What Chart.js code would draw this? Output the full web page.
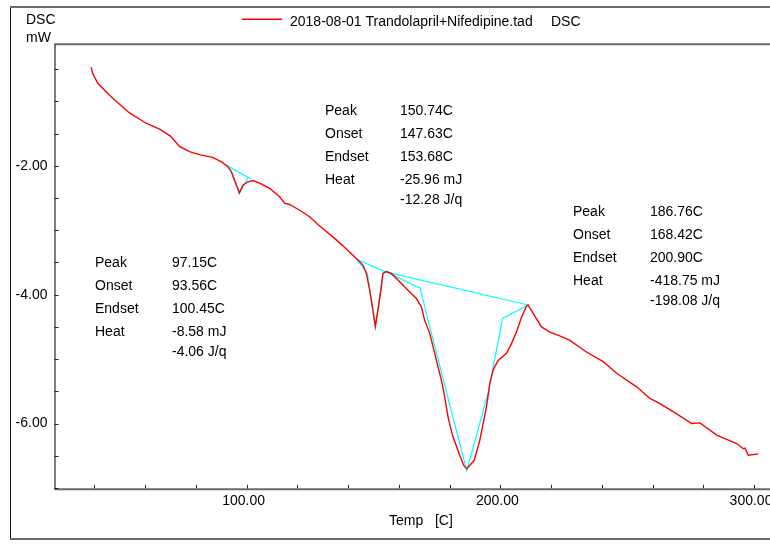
<!DOCTYPE html>
<html>
<head>
<meta charset="utf-8">
<script src="https://cdn.jsdelivr.net/npm/chart.js@4.4.0/dist/chart.umd.min.js"></script>
<style>
  html, body { margin: 0; padding: 0; background: #fff; }
  #wrap { width: 770px; height: 544px; position: relative; }
</style>
</head>
<body>
<div id="wrap"><canvas id="dsc" width="770" height="544"></canvas></div>
<script>
// DSC trace: temperature (C) and heat flow (mW)
const tempC = [
  38.74, 39.37, 41.34, 47.14, 53.85, 60.43, 65.68, 70.02, 73.57, 77.51,
  81.85, 86.59, 90.14, 92.50, 93.96, 95.27, 96.57, 97.15, 98.54, 100.51,
  102.49, 105.13, 109.07, 113.02, 114.99, 116.96, 120.91, 124.85, 128.13, 135.38,
  139.33, 143.27, 145.88, 147.22, 148.52, 149.59, 150.74, 151.80, 153.14, 153.77,
  155.11, 157.08, 160.36, 164.30, 166.94, 168.92, 170.22, 172.19, 174.83, 176.80,
  178.11, 179.41, 181.38, 184.02, 185.60, 186.76, 188.64, 189.73, 191.91, 194.56,
  195.86, 197.16, 199.13, 202.45, 204.42, 206.39, 208.36, 210.34, 210.97, 212.94,
  216.25, 219.53, 223.47, 227.42, 234.00, 240.55, 245.84, 253.73, 258.97, 262.92,
  269.51, 275.42, 278.70, 285.29, 293.18, 295.78, 296.45, 297.75, 301.70
];
const dscMw = [
  -0.47, -0.57, -0.72, -0.95, -1.18, -1.34, -1.43, -1.54, -1.70, -1.78,
  -1.83, -1.87, -1.94, -2.01, -2.09, -2.22, -2.36, -2.42, -2.30, -2.25,
  -2.23, -2.27, -2.35, -2.48, -2.58, -2.60, -2.69, -2.79, -2.91, -3.15,
  -3.29, -3.44, -3.54, -3.67, -3.93, -4.19, -4.49, -4.24, -3.88, -3.67,
  -3.64, -3.67, -3.80, -3.96, -4.06, -4.19, -4.40, -4.60, -5.02, -5.33,
  -5.59, -5.90, -6.21, -6.49, -6.65, -6.70, -6.62, -6.57, -6.26, -5.74,
  -5.38, -5.17, -5.02, -4.91, -4.76, -4.58, -4.35, -4.18, -4.16, -4.29,
  -4.50, -4.58, -4.64, -4.71, -4.89, -5.04, -5.22, -5.43, -5.61, -5.69,
  -5.85, -6.00, -5.99, -6.18, -6.31, -6.39, -6.38, -6.49, -6.47
];

// Peak analysis results
const peakT   = [97.15, 150.74, 186.76];
const onsetT  = [93.56, 147.63, 168.42];
const endsetT = [100.45, 153.68, 200.90];
const heatMJ  = [-8.58, -25.96, -418.75];
const heatJg  = [-4.06, -12.28, -198.08];

// Baselines and tangent constructions
const base1T = [91.99, 101.85];
const base1Y = [-1.99, -2.21];
const tan1T  = [onsetT[0], peakT[0], endsetT[0]];
const tan1Y  = [-2.05, -2.43, -2.19];
const base2T = [143.27, 155.11];
const base2Y = [-3.45, -3.65];
const tan2T  = [143.27, onsetT[1], peakT[1], endsetT[1], 155.11];
const tan2Y  = [-3.45, -3.67, -4.51, -3.67, -3.65];
const base3T = [155.11, 210.97];
const base3Y = [-3.65, -4.16];
const tan3T  = [155.11, onsetT[2], 172.19, peakT[2], 195.19, endsetT[2], 210.97];
const tan3Y  = [-3.65, -3.90, -4.50, -6.73, -5.53, -4.37, -4.16];

// Axis ranges and ticks
const xRange = [24.3, 306.3];
const yRange = [-7.02, -0.115];
const xStep = 20, xLabelEvery = 100;
const yStep = 0.5, yLabelEvery = 2;

const seriesName = '2018-08-01 Trandolapril+Nifedipine.tad';
const seriesKind = 'DSC';

const pts = (xs, ys) => xs.map((x, i) => ({ x: x, y: ys[i] }));
const FONT = '14px "Liberation Sans", Arial, sans-serif';

function cyanSet(xs, ys) {
  return { data: pts(xs, ys), borderColor: '#00ffff', borderWidth: 1.2,
           pointRadius: 0, tension: 0, fill: false };
}

const decorations = {
  id: 'decorations',
  beforeDraw(chart) {
    const c = chart.ctx;
    c.save();
    c.fillStyle = '#fff';
    c.fillRect(0, 0, chart.width, chart.height);
    c.restore();
  },
  afterDraw(chart) {
    const c = chart.ctx;
    const a = chart.chartArea;
    const xs = chart.scales.x, ys = chart.scales.y;
    c.save();

    // outer frame
    c.strokeStyle = '#111';
    c.lineWidth = 1;
    c.beginPath(); c.moveTo(10.5, 6); c.lineTo(10.5, 540); c.stroke();
    c.strokeStyle = '#6a6a6a';
    c.lineWidth = 2;
    c.beginPath(); c.moveTo(10, 7); c.lineTo(770, 7); c.stroke();
    c.beginPath(); c.moveTo(10, 539); c.lineTo(770, 539); c.stroke();

    // plot frame
    c.beginPath(); c.moveTo(a.left, a.top); c.lineTo(a.right, a.top); c.stroke();
    c.beginPath(); c.moveTo(a.left, a.bottom); c.lineTo(a.right, a.bottom); c.stroke();
    c.strokeStyle = '#000';
    c.lineWidth = 1;
    c.beginPath(); c.moveTo(a.left + 0.5, a.top); c.lineTo(a.left + 0.5, a.bottom); c.stroke();

    // inward tick marks
    c.strokeStyle = '#222';
    ys.ticks.forEach(t => {
      const y = Math.round(ys.getPixelForValue(t.value)) + 0.5;
      c.beginPath(); c.moveTo(a.left, y); c.lineTo(a.left + 4, y); c.stroke();
    });
    xs.ticks.forEach(t => {
      const x = Math.round(xs.getPixelForValue(t.value)) + 0.5;
      c.beginPath(); c.moveTo(x, a.bottom - 1); c.lineTo(x, a.bottom - 4.5); c.stroke();
    });

    // legend swatch
    c.fillStyle = '#ff0000';
    c.fillRect(242, 18.5, 40, 1.5);

    // texts
    c.fillStyle = '#000';
    c.font = FONT;
    c.textBaseline = 'alphabetic';
    c.textAlign = 'left';
    c.fillText('DSC', 26, 24);
    c.fillText('mW', 26, 42);
    c.fillText('Temp   [C]', 389, 525);
    c.fillText(seriesName, 290, 25.5);
    c.fillText(seriesKind, 551, 25.5);

    // peak result blocks
    const blocks = [
      { x: 95,  vx: 172, y: 262 },
      { x: 325, vx: 400, y: 110 },
      { x: 573, vx: 650, y: 211 }
    ];
    const rowOff = [0, 22.5, 46, 69, 88.5];
    blocks.forEach((b, i) => {
      const rows = [
        ['Peak',   peakT[i].toFixed(2) + 'C'],
        ['Onset',  onsetT[i].toFixed(2) + 'C'],
        ['Endset', endsetT[i].toFixed(2) + 'C'],
        ['Heat',   heatMJ[i].toFixed(2) + ' mJ'],
        ['',       heatJg[i].toFixed(2) + ' J/q']
      ];
      rows.forEach((r, k) => {
        const yy = b.y + rowOff[k] + 5;
        if (r[0]) c.fillText(r[0], b.x, yy);
        c.fillText(r[1], b.vx, yy);
      });
    });
    c.restore();
  }
};

new Chart(document.getElementById('dsc'), {
  type: 'line',
  data: {
    datasets: [
      { label: seriesName, data: pts(tempC, dscMw), borderColor: '#ff0000',
        borderWidth: 1.4, pointRadius: 0, tension: 0, fill: false },
      cyanSet(base1T, base1Y), cyanSet(tan1T, tan1Y),
      cyanSet(base2T, base2Y), cyanSet(tan2T, tan2Y),
      cyanSet(base3T, base3Y), cyanSet(tan3T, tan3Y)
    ]
  },
  options: {
    responsive: false,
    devicePixelRatio: 1,
    animation: false,
    events: [],
    layout: { padding: { top: 44.3, left: 0, right: 0, bottom: 0 } },
    plugins: { legend: { display: false }, tooltip: { enabled: false } },
    scales: {
      x: {
        type: 'linear', min: xRange[0], max: xRange[1],
        grid: { display: false, drawTicks: false },
        border: { display: false },
        ticks: {
          stepSize: xStep, includeBounds: false, autoSkip: false, maxRotation: 0,
          padding: 3, labelOffset: -3, color: '#000',
          font: { family: '"Liberation Sans", Arial, sans-serif', size: 14 },
          callback: v => (Math.abs(v % xLabelEvery) < 1e-6 ? v.toFixed(2) : '')
        },
        afterFit: s => { s.height = 54.7; s.paddingLeft = 0; s.paddingRight = 0; }
      },
      y: {
        type: 'linear', min: yRange[0], max: yRange[1],
        grid: { display: false, drawTicks: false },
        border: { display: false },
        ticks: {
          stepSize: yStep, includeBounds: false, autoSkip: false,
          padding: 7, color: '#000',
          font: { family: '"Liberation Sans", Arial, sans-serif', size: 14 },
          callback: v => (Math.abs(v % yLabelEvery) < 1e-6 ? v.toFixed(2) : '')
        },
        afterFit: s => { s.width = 54.5; s.paddingTop = 0; s.paddingBottom = 0; }
      }
    }
  },
  plugins: [decorations]
});
</script>
</body>
</html>
